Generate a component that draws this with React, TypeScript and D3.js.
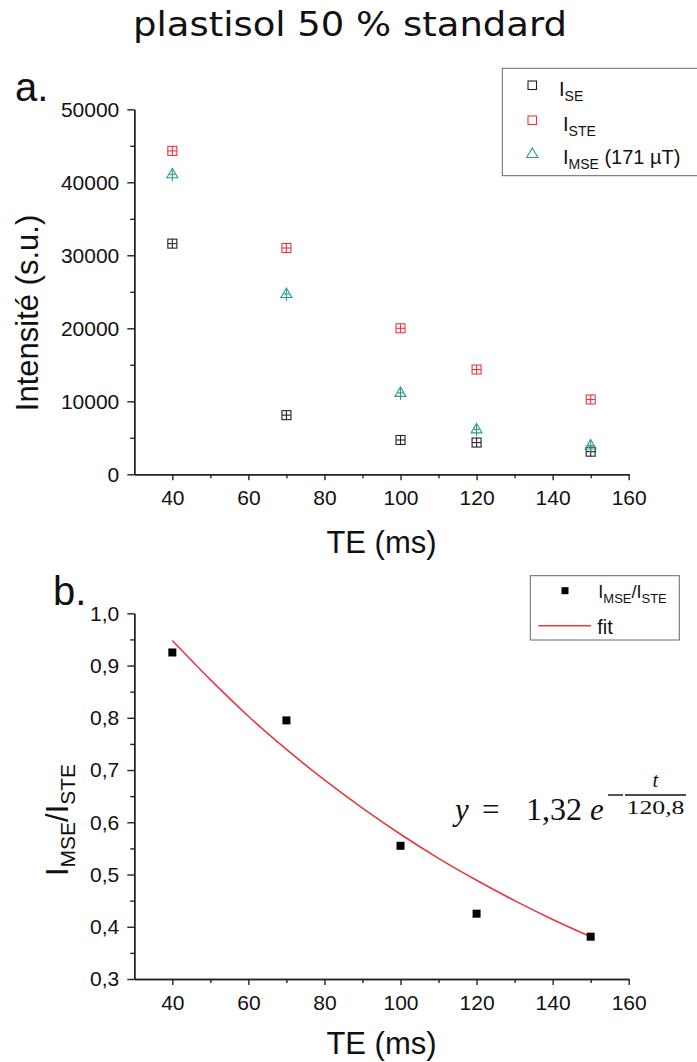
import React, { useEffect, useRef } from "react";
import * as d3 from "d3";

// ---------- data ----------
const TE = [40, 70, 100, 120, 150];
const I_SE = [31600, 8100, 4700, 4350, 3100];
const I_STE = [44300, 31000, 20000, 14350, 10250];
const I_MSE = [41100, 24700, 11150, 6150, 3950];
const RATIO = [0.925, 0.795, 0.555, 0.425, 0.381];
const FIT_T = [40, 50, 60, 70, 80, 90, 100, 110, 120, 130, 140, 150];
const FIT_Y = [0.948, 0.873, 0.803, 0.7395, 0.681, 0.627, 0.577, 0.531, 0.489, 0.45, 0.414, 0.381];
const X_TICKS = [40, 60, 80, 100, 120, 140, 160];
const X_MINOR = [50, 70, 90, 110, 130, 150];
const YA_TICKS = [0, 10000, 20000, 30000, 40000, 50000];
const YA_MINOR = [5000, 15000, 25000, 35000, 45000];
const YB_TICKS = [0.3, 0.4, 0.5, 0.6, 0.7, 0.8, 0.9, 1.0];
const YB_MINOR = [0.35, 0.45, 0.55, 0.65, 0.75, 0.85, 0.95];

const RED = "#e8383d";
const TEAL = "#2f9a93";
const BLACK = "#222";
const SANS = "'Liberation Sans', Arial, sans-serif";
const SERIF = "'Liberation Serif', 'Times New Roman', serif";

const xA = d3.scaleLinear().domain([30, 160]).range([134.3, 628.7]);
const yA = d3.scaleLinear().domain([0, 50000]).range([474.3, 109.3]);
const xB = d3.scaleLinear().domain([30, 160]).range([134.3, 628.7]);
const yB = d3.scaleLinear().domain([0.3, 1.0]).range([979, 613.3]);

function styleAxis(g: d3.Selection<SVGGElement, unknown, null, undefined>) {
  g.selectAll("path.domain").attr("stroke", BLACK).attr("stroke-width", 1.4);
  g.selectAll(".tick line").attr("stroke", BLACK).attr("stroke-width", 1.4);
  g.selectAll(".tick text")
    .attr("fill", "#111")
    .style("font-family", SANS)
    .style("font-size", "21px");
  g.attr("font-family", null).attr("font-size", null);
}

function Axes({ x, y, yTicks, yMinor, yFmt }: any) {
  const ref = useRef<SVGGElement>(null);
  useEffect(() => {
    const root = d3.select(ref.current!);
    root.selectAll("*").remove();
    const x0 = y.range()[0];
    const xMain = root.append("g").attr("transform", `translate(0,${x0})`);
    xMain.call(d3.axisBottom(x).tickValues(X_TICKS).tickSize(6).tickSizeOuter(0).tickPadding(10));
    styleAxis(xMain);
    const xMin = root.append("g").attr("transform", `translate(0,${x0})`);
    xMin.call(d3.axisBottom(x).tickValues(X_MINOR).tickSize(4).tickSizeOuter(0).tickFormat(() => ""));
    styleAxis(xMin);
    const y0 = x.range()[0];
    const yMain = root.append("g").attr("transform", `translate(${y0},0)`);
    yMain.call(d3.axisLeft(y).tickValues(yTicks).tickSize(7).tickSizeOuter(0).tickPadding(8).tickFormat(yFmt));
    styleAxis(yMain);
    const yMin = root.append("g").attr("transform", `translate(${y0},0)`);
    yMin.call(d3.axisLeft(y).tickValues(yMinor).tickSize(4).tickSizeOuter(0).tickFormat(() => ""));
    styleAxis(yMin);
  }, []);
  return <g ref={ref} />;
}

function CrossSquare({ cx, cy, color, s = 9 }: any) {
  const h = s / 2;
  return (
    <g stroke={color} strokeWidth={1.1} fill="none">
      <rect x={cx - h} y={cy - h} width={s} height={s} />
      <line x1={cx - h} x2={cx + h} y1={cy} y2={cy} />
      <line x1={cx} x2={cx} y1={cy - h} y2={cy + h} />
    </g>
  );
}

function CrossTriangle({ cx, cy, color }: any) {
  return (
    <g stroke={color} strokeWidth={1.1} fill="none">
      <polygon points={`${cx},${cy - 6} ${cx + 5.5},${cy + 3.5} ${cx - 5.5},${cy + 3.5}`} />
      <line x1={cx} x2={cx} y1={cy - 5} y2={cy + 7} />
      <line x1={cx - 3} x2={cx + 3} y1={cy} y2={cy} />
    </g>
  );
}

export default function App() {
  const fitLine = d3
    .line<number>()
    .x((_, i) => xB(FIT_T[i]))
    .y((d) => yB(d))
    .curve(d3.curveCatmullRom);
  const commaFmt = (d: any) => d3.format(".1f")(d).replace(".", ",");

  return (
    <svg
      width={697}
      height={1062}
      style={{ position: "absolute", left: 0, top: 0, background: "#fff" }}
      fontFamily={SANS}
    >
      <rect x={0} y={0} width={697} height={1062} fill="#fff" />
      {/* title */}
      <text
        x={350}
        y={36}
        textAnchor="middle"
        fontFamily="'DejaVu Sans', Verdana, sans-serif"
        fontSize={33}
        textLength={434}
        lengthAdjust="spacingAndGlyphs"
        fill="#111"
      >
        plastisol 50 % standard
      </text>

      {/* ---------- panel a ---------- */}
      <text x={15} y={101} fontSize={40} fill="#111">a.</text>
      <Axes x={xA} y={yA} yTicks={YA_TICKS} yMinor={YA_MINOR} yFmt={(d: any) => String(d)} />
      <text transform="translate(38,313) rotate(-90)" textAnchor="middle" fontSize={31} fill="#111">
        Intensité (s.u.)
      </text>
      <text x={381.5} y={553} textAnchor="middle" fontSize={31} fill="#111">TE (ms)</text>

      {TE.map((t, i) => (
        <CrossSquare key={"se" + i} cx={xA(t)} cy={yA(I_SE[i])} color={BLACK} />
      ))}
      {TE.map((t, i) => (
        <CrossSquare key={"ste" + i} cx={xA(t)} cy={yA(I_STE[i])} color={RED} />
      ))}
      {TE.map((t, i) => (
        <CrossTriangle key={"mse" + i} cx={xA(t)} cy={yA(I_MSE[i])} color={TEAL} />
      ))}

      {/* legend a */}
      <rect x={502.3} y={68.3} width={220} height={107.4} fill="#fff" stroke="#666" strokeWidth={1} />
      <rect x={528} y={81} width={8.5} height={8.5} fill="none" stroke={BLACK} strokeWidth={1.1} />
      <text x={559} y={96} fontSize={20} fill="#111">
        I<tspan fontSize={14} dy={5}>SE</tspan>
      </text>
      <rect x={528} y={116} width={8.5} height={8.5} fill="none" stroke={RED} strokeWidth={1.1} />
      <text x={563} y={131} fontSize={20} fill="#111">
        I<tspan fontSize={14} dy={5}>STE</tspan>
      </text>
      <polygon points="532.3,148 538,157.5 526.6,157.5" fill="none" stroke={TEAL} strokeWidth={1.1} />
      <text x={563} y={164} fontSize={20} fill="#111">
        I<tspan fontSize={14} dy={5}>MSE</tspan>
        <tspan dy={-5}> (171 µT)</tspan>
      </text>

      {/* ---------- panel b ---------- */}
      <text x={53} y={605} fontSize={40} fill="#111">b.</text>
      <Axes x={xB} y={yB} yTicks={YB_TICKS} yMinor={YB_MINOR} yFmt={commaFmt} />
      <text transform="translate(68,820) rotate(-90)" textAnchor="middle" fontSize={31} fill="#111">
        I<tspan fontSize={21} dy={7}>MSE</tspan>
        <tspan dy={-7}>/I</tspan>
        <tspan fontSize={21} dy={7}>STE</tspan>
      </text>
      <text x={381.5} y={1054} textAnchor="middle" fontSize={31} fill="#111">TE (ms)</text>

      <path d={fitLine(FIT_Y) || ""} fill="none" stroke={RED} strokeWidth={1.6} />
      {TE.map((t, i) => (
        <rect key={"r" + i} x={xB(t) - 4} y={yB(RATIO[i]) - 4} width={8} height={8} fill="#000" />
      ))}

      {/* legend b */}
      <rect x={530.3} y={575.7} width={149} height={64.3} fill="#fff" stroke="#666" strokeWidth={1} />
      <rect x={561.5} y={587.2} width={7} height={7} fill="#000" />
      <text x={598.3} y={598} fontSize={18} fill="#111">
        I<tspan fontSize={13} dy={5}>MSE</tspan>
        <tspan dy={-5}>/I</tspan>
        <tspan fontSize={13} dy={5}>STE</tspan>
      </text>
      <line x1={538.3} x2={591} y1={625.7} y2={625.7} stroke={RED} strokeWidth={1.6} />
      <text x={597.3} y={634} fontSize={20} fill="#111">fit</text>

      {/* equation */}
      <g fontFamily={SERIF} fill="#111">
        <text x={455} y={820} fontSize={31} fontStyle="italic">y</text>
        <text x={482} y={820} fontSize={31}>=</text>
        <text x={526} y={820} fontSize={31} textLength={56} lengthAdjust="spacingAndGlyphs">1,32</text>
        <text x={590} y={820} fontSize={31} fontStyle="italic">e</text>
        <line x1={608} x2={623} y1={795} y2={795} stroke="#111" strokeWidth={1.4} />
        <line x1={625} x2={686} y1={795} y2={795} stroke="#111" strokeWidth={1.4} />
        <text x={655.5} y={787} fontSize={21} fontStyle="italic" textAnchor="middle">t</text>
        <text x={626.5} y={813.5} fontSize={19} textLength={58} lengthAdjust="spacingAndGlyphs">120,8</text>
      </g>
    </svg>
  );
}
